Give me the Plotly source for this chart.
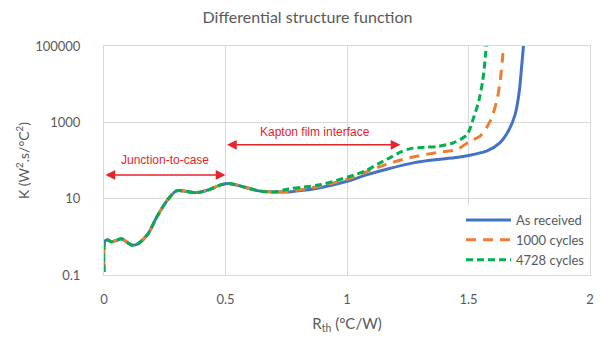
import math
import plotly.graph_objects as go

# shared early part of the curves (Rth in °C/W, K in W^2.s/°C^2)
rth_common = [0, 0.004, 0.016, 0.031, 0.05, 0.072, 0.095, 0.118, 0.14, 0.181, 0.216, 0.26,
              0.298, 0.34, 0.38, 0.43, 0.48, 0.514, 0.555, 0.637, 0.70]
k_common = [0.12, 0.78, 0.82, 0.74, 0.8, 0.89, 0.72, 0.6, 0.66, 1.2, 3.2, 9,
            16, 15.5, 14.4, 17, 23, 25, 22, 16, 15]

rth_received = [0.759, 0.82, 0.894, 1.004, 1.08, 1.167, 1.278, 1.371, 1.44, 1.494, 1.576,
                1.630, 1.664, 1.692, 1.709, 1.718, 1.727, 1.735]
k_received = [15, 16.5, 19.6, 29, 42, 60, 88, 106, 118, 133, 178,
              295, 590, 1620, 6500, 26000, 120000, 1000000]

rth_1000 = [0.759, 0.82, 0.894, 1.004, 1.127, 1.167, 1.261, 1.371, 1.453, 1.507, 1.548,
            1.589, 1.616, 1.630, 1.640, 1.646, 1.652]
k_1000 = [15.5, 17.5, 21.5, 33, 66, 81, 120, 162, 195, 324, 435,
          1070, 3550, 11700, 48000, 150000, 1000000]

rth_4728 = [0.759, 0.82, 0.894, 1.004, 1.08, 1.127, 1.167, 1.22, 1.261, 1.32, 1.371, 1.44, 1.494,
            1.521, 1.542, 1.558, 1.569, 1.574, 1.58]
k_4728 = [18, 20, 23.5, 37, 55, 81, 110, 165, 205, 222, 232, 295, 480,
          1320, 3550, 11700, 48000, 150000, 1000000]

series_names = ["As received", "1000 cycles", "4728 cycles"]
x_ticks = [0, 0.5, 1, 1.5, 2]
x_ticktext = ["0", "0.5", "1", "1.5", "2"]
y_ticks = [0.1, 10, 1000, 100000]
y_ticktext = ["0.1", "10", "1000", "100000"]

FONT = "Lato"
GRAY = "#595959"
GRID = "#D9D9D9"
RED = "#E8242B"

fig = go.Figure()
styles = [
    dict(color="#4472C4", width=3, dash="solid"),
    dict(color="#ED7D31", width=3, dash="10px,7px"),
    dict(color="#00B050", width=3, dash="7px,4px"),
]
data = [(rth_received, k_received), (rth_1000, k_1000), (rth_4728, k_4728)]
for name, (xs, ks), st in zip(series_names, data, styles):
    fig.add_trace(go.Scatter(
        x=rth_common + xs, y=k_common + ks, mode="lines", name=name,
        line=dict(shape="spline", smoothing=0.8, **st),
    ))

fig.update_layout(
    width=603, height=343,
    margin=dict(l=104, r=9, t=46, b=68),
    paper_bgcolor="white", plot_bgcolor="white",
    font=dict(family=FONT, color=GRAY, size=13),
    title=dict(text="Differential structure function", x=0.51, xanchor="center",
               y=0.95, yanchor="middle", font=dict(size=16, color=GRAY, family=FONT)),
    showlegend=True,
    legend=dict(x=1.0, xanchor="right", y=0.0, yanchor="bottom",
                bgcolor="white", borderwidth=0, font=dict(size=13, color=GRAY),
                tracegroupgap=0, itemwidth=45),
)
fig.update_xaxes(range=[0, 2], tickvals=x_ticks, ticktext=x_ticktext,
                 showgrid=True, gridcolor=GRID, gridwidth=1, zeroline=False,
                 showline=True, linecolor=GRID, mirror=True,
                 ticks="", ticklabelstandoff=12,
                 title=dict(text="R<sub>th</sub> (°C/W)", standoff=12,
                            font=dict(size=15, color=GRAY)))
fig.update_yaxes(type="log", range=[-1, 5], tickvals=y_ticks, ticktext=y_ticktext,
                 showgrid=True, gridcolor=GRID, gridwidth=1, zeroline=False,
                 showline=True, linecolor=GRID, mirror=True,
                 ticks="", ticklabelstandoff=20,
                 title=dict(text="K (W<sup>2</sup>.s/°C<sup>2</sup>)", standoff=2,
                            font=dict(size=14, color=GRAY)))

# region arrows
arrow_y1 = 42
arrow_y2 = 257
for (x0, x1, yv) in [(0, 0.5, arrow_y1), (0.5, 1.22, arrow_y2)]:
    fig.add_annotation(x=x1, y=math.log10(yv), ax=x0, ay=math.log10(yv),
                       xref="x", yref="y", axref="x", ayref="y",
                       text="", showarrow=True, arrowhead=2, arrowside="end+start",
                       arrowsize=1.3, arrowwidth=1.5, arrowcolor=RED)
fig.add_annotation(x=0.25, y=math.log10(arrow_y1), yshift=15, xref="x", yref="y",
                   text="Junction-to-case", showarrow=False,
                   font=dict(family="Liberation Sans", size=12, color=RED))
fig.add_annotation(x=0.87, y=math.log10(arrow_y2), yshift=13, xref="x", yref="y",
                   text="Kapton film interface", showarrow=False,
                   font=dict(family="Liberation Sans", size=12, color=RED))

fig.write_html("out.html")
